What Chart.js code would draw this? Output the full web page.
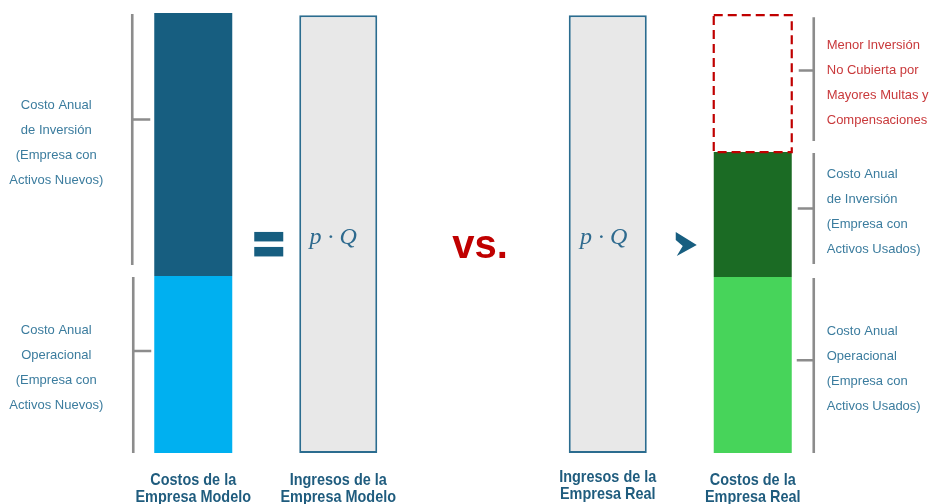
<!DOCTYPE html>
<html><head><meta charset="utf-8">
<script src="https://cdn.jsdelivr.net/npm/chart.js@4"></script>
<style>html,body{margin:0;padding:0;background:#fff;overflow:hidden}</style>
</head><body>
<canvas id="c" width="931" height="504"></canvas>
<script>
// ---- data ----
const categorias = ['Empresa Modelo', 'Empresa Real'];
const costoOperacional = [40.2, 40.0];     // modelo, real
const costoInversion = [59.8, 28.4];       // modelo, real
const ingresos = [99.5, 99.5];             // modelo, real
const inversionNoCubierta = [null, 31.1];  // solo empresa real

const etiquetasBarras = [
  ['Costos de la', 'Empresa Modelo'],
  ['Ingresos de la', 'Empresa Modelo'],
  ['Ingresos de la', 'Empresa Real'],
  ['Costos de la', 'Empresa Real']
];
const textoInvModelo = ['Costo Anual', 'de Inversión', '(Empresa con', 'Activos Nuevos)'];
const textoOpModelo = ['Costo Anual', 'Operacional', '(Empresa con', 'Activos Nuevos)'];
const textoNoCubierta = ['Menor Inversión', 'No Cubierta por', 'Mayores Multas y', 'Compensaciones'];
const textoInvReal = ['Costo Anual', 'de Inversión', '(Empresa con', 'Activos Usados)'];
const textoOpReal = ['Costo Anual', 'Operacional', '(Empresa con', 'Activos Usados)'];

// ---- styles ----
const C_AZUL_OSC = '#175E80', C_AZUL_CLA = '#00B0F0';
const C_VERDE_OSC = '#1B6B24', C_VERDE_CLA = '#47D45A';
const C_GRIS = '#E8E8E8', C_BORDE = '#2B6C8F';
const C_TEXTO = '#3B7C9E', C_ROJO_TXT = '#C9393B', C_ROJO = '#C00000';
const C_TITULO = '#1F5C7E', C_CORCHETE = '#8C8C8C';
const F_TXT = '"Liberation Sans", Arial, sans-serif';

const datasets = [
  { label: 'Costo Anual Operacional (Modelo)', data: [costoOperacional[0], null], backgroundColor: C_AZUL_CLA, stack: 'izq' },
  { label: 'Costo Anual de Inversión (Modelo)', data: [costoInversion[0], null], backgroundColor: C_AZUL_OSC, stack: 'izq' },
  { label: 'Ingresos (Real)', data: [null, ingresos[1]], backgroundColor: C_GRIS, borderColor: C_BORDE, borderWidth: 2, borderSkipped: false, stack: 'izq' },
  { label: 'Ingresos (Modelo)', data: [ingresos[0], null], backgroundColor: C_GRIS, borderColor: C_BORDE, borderWidth: 2, borderSkipped: false, stack: 'der' },
  { label: 'Costo Anual Operacional (Real)', data: [null, costoOperacional[1]], backgroundColor: C_VERDE_CLA, stack: 'der' },
  { label: 'Costo Anual de Inversión (Real)', data: [null, costoInversion[1]], backgroundColor: C_VERDE_OSC, stack: 'der' },
  { label: 'Menor Inversión No Cubierta', data: inversionNoCubierta, backgroundColor: 'rgba(0,0,0,0)', stack: 'der' }
];

function box(chart, d, i) {
  const e = chart.getDatasetMeta(d).data[i];
  const top = Math.min(e.y, e.base), bot = Math.max(e.y, e.base);
  return { x: e.x, l: e.x - e.width / 2, r: e.x + e.width / 2, top, bot, w: e.width };
}

function corchete(ctx, x, y0, y1, yTick, xTick) {
  ctx.save();
  ctx.strokeStyle = C_CORCHETE; ctx.lineWidth = 2.6; ctx.lineCap = 'butt';
  ctx.beginPath(); ctx.moveTo(x, y0); ctx.lineTo(x, y1); ctx.moveTo(xTick, yTick); ctx.lineTo(x, yTick); ctx.stroke();
  ctx.restore();
}
function lineas(ctx, lines, x, yc, align, color) {
  ctx.save();
  ctx.font = '13px ' + F_TXT; ctx.fillStyle = color; ctx.textAlign = align; ctx.textBaseline = 'middle';
  const n = lines.length;
  lines.forEach((t, k) => ctx.fillText(t, x, yc + (k - (n - 1) / 2) * 25));
  ctx.restore();
}

const anotaciones = {
  id: 'anotaciones',
  afterDatasetsDraw(chart) {
    const ctx = chart.ctx;
    const ys = chart.scales.y;
    const opM = box(chart, 0, 0), invM = box(chart, 1, 0), ingR = box(chart, 2, 1);
    const ingM = box(chart, 3, 0), opR = box(chart, 4, 1), invR = box(chart, 5, 1), noC = box(chart, 6, 1);

    // dashed box
    ctx.save();
    ctx.strokeStyle = C_ROJO; ctx.lineWidth = 2.2; ctx.setLineDash([9, 5]);
    ctx.strokeRect(noC.l, noC.top, noC.w, noC.bot - noC.top);
    ctx.restore();

    // left brackets
    const xl = opM.l - 22;
    let a = invM.top + 1, b = invM.bot - 11;
    corchete(ctx, xl, a, b, a + (b - a) * 0.42, opM.l - 4);
    lineas(ctx, textoInvModelo, opM.l - 98, (a + b) / 2 + 3, 'center', C_TEXTO);
    a = opM.top + 1; b = opM.bot;
    corchete(ctx, xl + 1, a, b, a + (b - a) * 0.42, opM.l - 3);
    lineas(ctx, textoOpModelo, opM.l - 98, (a + b) / 2 + 3, 'center', C_TEXTO);

    // right brackets
    const xr = opR.r + 22;
    a = noC.top + 2; b = noC.bot - 11;
    corchete(ctx, xr, a, b, a + (b - a) * 0.43, opR.r + 7);
    lineas(ctx, textoNoCubierta, opR.r + 35, (a + b) / 2 + 3.5, 'left', C_ROJO_TXT);
    a = invR.top + 1; b = invR.bot - 13;
    corchete(ctx, xr, a, b, a + (b - a) * 0.5, opR.r + 6);
    lineas(ctx, textoInvReal, opR.r + 35, (a + b) / 2 + 3, 'left', C_TEXTO);
    a = opR.top + 1; b = opR.bot;
    corchete(ctx, xr, a, b, a + (b - a) * 0.47, opR.r + 5);
    lineas(ctx, textoOpReal, opR.r + 35, (a + b) / 2 + 3.5, 'left', C_TEXTO);

    // p·Q
    ctx.save();
    ctx.font = 'italic 24px "Liberation Serif", "DejaVu Serif", serif';
    ctx.fillStyle = '#2E6A8E'; ctx.textAlign = 'center'; ctx.textBaseline = 'alphabetic';
    const yPQ = ys.getPixelForValue(47.5);
    ctx.fillText('p · Q', ingM.x - 5, yPQ);
    ctx.fillText('p · Q', ingR.x - 4, yPQ);
    ctx.restore();

    // "=" sign
    const xe = (invM.r + ingM.l) / 2 + 3;
    const ye = ys.getPixelForValue(47.4);
    ctx.save(); ctx.fillStyle = C_AZUL_OSC;
    ctx.fillRect(xe - 14.5, ye - 12.5, 29, 9.5);
    ctx.fillRect(xe - 14.5, ye + 2.5, 29, 9.5);
    ctx.restore();

    // "vs."
    ctx.save();
    ctx.font = 'bold 40px ' + F_TXT; ctx.fillStyle = C_ROJO; ctx.textAlign = 'center'; ctx.textBaseline = 'alphabetic';
    ctx.fillText('vs.', (ingM.r + ingR.l) / 2 + 7, ys.getPixelForValue(44.3));
    ctx.restore();

    // ">" chevron
    const xc = (ingR.r + opR.l) / 2 + 6, yc = ys.getPixelForValue(47.5);
    ctx.save(); ctx.fillStyle = C_AZUL_OSC;
    ctx.beginPath();
    ctx.moveTo(xc - 10.5, yc - 12);
    ctx.lineTo(xc + 10.5, yc + 1);
    ctx.lineTo(xc - 9.5, yc + 12);
    ctx.lineTo(xc - 3.5, yc + 2);
    ctx.lineTo(xc - 10.5, yc - 4);
    ctx.closePath(); ctx.fill();
    ctx.restore();

    // bottom labels (condensed bold)
    const bases = [opM, ingM, ingR, opR];
    const dy = [0, 0, -3, 0];
    const sx = 0.85;
    bases.forEach((bx, k) => {
      etiquetasBarras[k].forEach((t, j) => {
        ctx.save();
        ctx.translate(bx.x, opM.bot + 27 + dy[k] + j * 17.5);
        ctx.scale(sx, 1);
        ctx.font = 'bold 17px ' + F_TXT; ctx.fillStyle = C_TITULO; ctx.textAlign = 'center'; ctx.textBaseline = 'middle';
        ctx.fillText(t, 0, 0);
        ctx.restore();
      });
    });
  }
};

new Chart(document.getElementById('c'), {
  type: 'bar',
  data: { labels: categorias, datasets },
  options: {
    responsive: false,
    animation: false,
    events: [],
    layout: { padding: { left: 58.5, right: 43.5, top: 13, bottom: 51 } },
    datasets: { bar: { categoryPercentage: 0.6996, barPercentage: 0.538 } },
    plugins: { legend: { display: false }, tooltip: { enabled: false } },
    scales: {
      x: { stacked: true, display: false },
      y: { stacked: true, display: false, min: 0, max: 100 }
    }
  },
  plugins: [anotaciones]
});
</script>
</body></html>
